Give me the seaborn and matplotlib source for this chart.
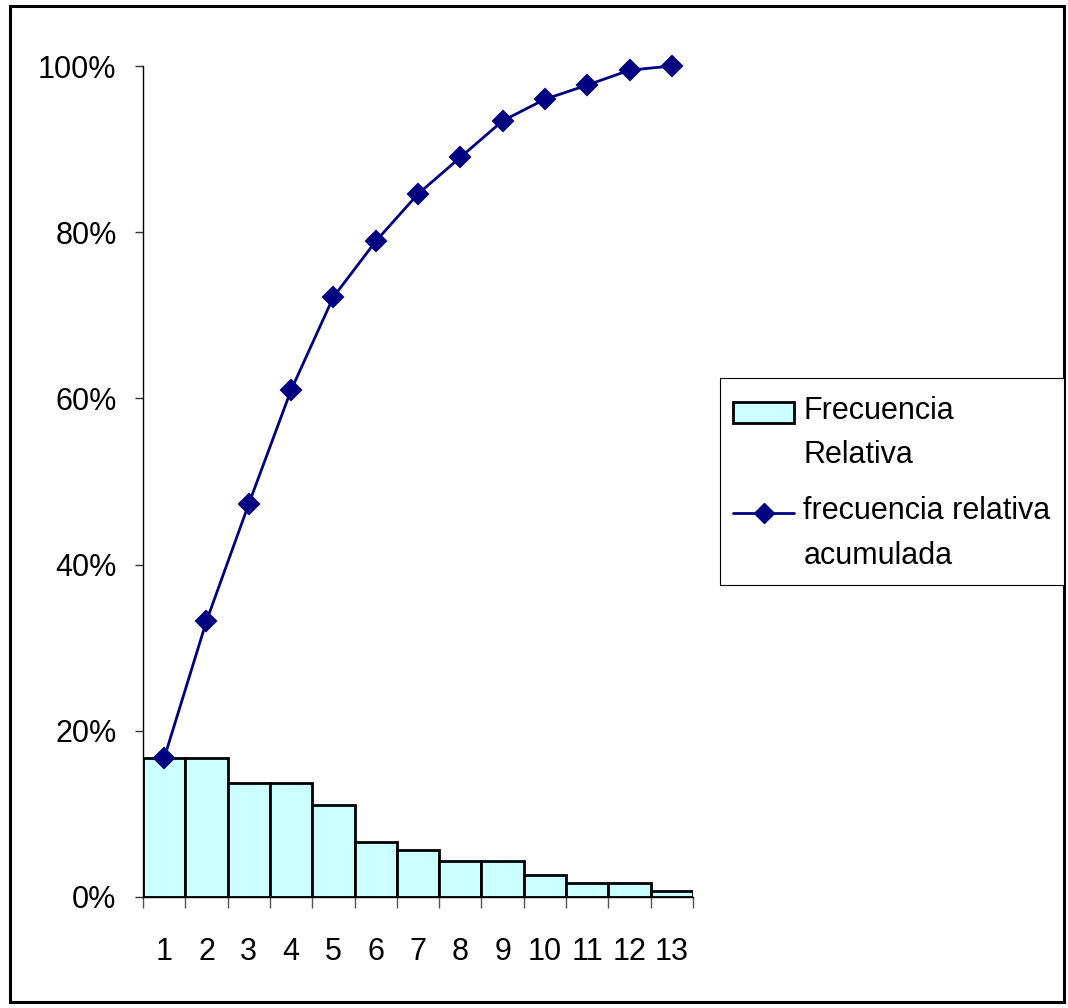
import numpy as np
import pandas as pd
import seaborn as sns
import matplotlib.pyplot as plt
from matplotlib.patches import Patch, Rectangle
from matplotlib.lines import Line2D
from matplotlib.path import Path
from matplotlib.legend_handler import HandlerPatch, HandlerLine2D
from matplotlib.transforms import Affine2D
import matplotlib.ticker as ticker

# values (fractions)
categories = ["1", "2", "3", "4", "5", "6", "7", "8", "9", "10", "11", "12", "13"]
rel_freq = [0.167, 0.167, 0.137, 0.137, 0.111, 0.066, 0.057, 0.043, 0.043, 0.026, 0.017, 0.017, 0.007]
cum_freq = [0.167, 0.332, 0.473, 0.610, 0.722, 0.789, 0.846, 0.890, 0.934, 0.960, 0.977, 0.995, 1.000]
y_ticks = [0, 0.2, 0.4, 0.6, 0.8, 1.0]

df = pd.DataFrame({"cat": categories, "rel": rel_freq, "cum": cum_freq})

sns.set_theme(style="ticks")
plt.rcParams["font.family"] = ["Liberation Sans", "DejaVu Sans"]
plt.rcParams["text.color"] = "black"
plt.rcParams["xtick.labelcolor"] = "black"
plt.rcParams["ytick.labelcolor"] = "black"

fig = plt.figure(figsize=(10.68, 10.08), dpi=100)
ax = fig.add_axes([143 / 1068, 1 - 897 / 1008, 550 / 1068, 831 / 1008])

bar_color = "#CCFFFF"
line_color = "#000080"
ms = 10.5
lw = 2.0
edge_lw = 2.0

sns.barplot(data=df, x="cat", y="rel", color=bar_color, saturation=1, width=1,
            edgecolor="black", linewidth=edge_lw, ax=ax)
sns.pointplot(data=df, x="cat", y="cum", color=line_color, markers="D",
              linestyles="-", linewidth=lw, markersize=ms, ax=ax)
for line in ax.lines:
    line.set_clip_on(False)
    line.set_zorder(5)

ax.set_xlim(-0.5, len(categories) - 0.5)
ax.set_ylim(0, 1)
ax.set_xlabel("")
ax.set_ylabel("")

# y axis
ax.yaxis.set_major_locator(ticker.FixedLocator(y_ticks))
ax.yaxis.set_major_formatter(ticker.PercentFormatter(1.0, decimals=0))
ax.tick_params(axis="y", length=6, width=1, color="#333333", pad=13, labelsize=22)

# x axis: ticks between bars, labels under bar centres
ax.xaxis.set_major_locator(ticker.FixedLocator(np.arange(-0.5, len(categories), 1.0)))
ax.xaxis.set_major_formatter(ticker.NullFormatter())
ax.xaxis.set_minor_locator(ticker.FixedLocator(np.arange(len(categories))))
ax.xaxis.set_minor_formatter(ticker.FixedFormatter(categories))
ax.tick_params(axis="x", which="major", length=8, width=1, color="#555555")
ax.tick_params(axis="x", which="minor", length=0, pad=29, labelsize=22)

for side in ["top", "right"]:
    ax.spines[side].set_visible(False)
for side in ["left", "bottom"]:
    ax.spines[side].set_color("black")
    ax.spines[side].set_linewidth(1)


# legend handles sit next to the first line of each two-line label
class RaisedPatch(HandlerPatch):
    def create_artists(self, legend, orig_handle, xdescent, ydescent, width, height, fontsize, trans):
        return super().create_artists(legend, orig_handle, xdescent, ydescent, width, height,
                                      fontsize, Affine2D().translate(0, 15.5) + trans)


class RaisedLine(HandlerLine2D):
    def create_artists(self, legend, orig_handle, xdescent, ydescent, width, height, fontsize, trans):
        return super().create_artists(legend, orig_handle, xdescent, ydescent, width, height,
                                      fontsize, Affine2D().translate(0, 15.5) + trans)


# frame a bit taller than the packed legend (more padding top than sides)
def tall_box(x0, y0, width, height, mutation_size):
    top, bottom = 5, 1
    verts = [(x0, y0 - bottom), (x0 + width, y0 - bottom), (x0 + width, y0 + height + top),
             (x0, y0 + height + top), (x0, y0 - bottom)]
    return Path(verts, closed=True)


bar_handle = Patch(facecolor=bar_color, edgecolor="black", linewidth=edge_lw)
line_handle = Line2D([], [], color=line_color, marker="D", markersize=ms, linewidth=lw)
labels = ["Frecuencia\nRelativa", "frecuencia relativa\nacumulada"]
leg = fig.legend([bar_handle, line_handle], labels, loc="upper left",
                 bbox_to_anchor=(720 / 1068, 1 - 383 / 1008),
                 handler_map={Patch: RaisedPatch(), Line2D: RaisedLine()},
                 fontsize=22, frameon=True, fancybox=False, edgecolor="black",
                 framealpha=1, borderpad=0.43, labelspacing=0.85,
                 handlelength=2.0, handletextpad=0.3, borderaxespad=0)
leg.get_frame().set_linewidth(0.8)
leg.get_frame().set_boxstyle(tall_box)
for t in leg.get_texts():
    t.set_linespacing(1.62)

# outer chart border
fig.patches.append(Rectangle((10 / 1068, 6 / 1008), 1054 / 1068, 996 / 1008,
                             transform=fig.transFigure, fill=False,
                             edgecolor="black", linewidth=2.2))

fig.savefig("out.png", dpi=100)
